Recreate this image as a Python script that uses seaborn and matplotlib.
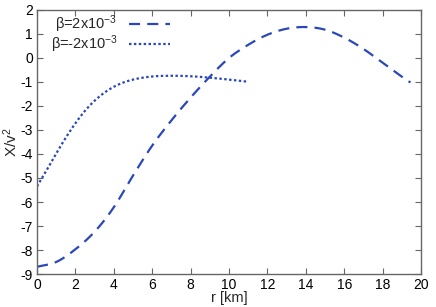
import numpy as np
import pandas as pd
import matplotlib
matplotlib.use("Agg")
import matplotlib.pyplot as plt
import seaborn as sns

r_pos = [0, 1, 2, 3, 3.5, 4, 5, 6, 7, 8, 9, 10, 11, 12, 13, 14, 15, 16, 17, 18, 19, 19.45]
y_pos = [-8.7, -8.5, -7.97, -7.24, -6.77, -6.22, -4.9, -3.65, -2.6, -1.65, -0.78, 0.0,
         0.55, 0.97, 1.22, 1.29, 1.18, 0.85, 0.38, -0.2, -0.78, -1.02]
r_neg = [0, 0.5, 1, 1.5, 2, 2.5, 3, 3.5, 4, 4.5, 5, 5.5, 6, 7, 8, 9, 10, 11]
y_neg = [-5.35, -4.68, -3.98, -3.32, -2.72, -2.2, -1.78, -1.45, -1.2, -1.02, -0.9,
         -0.82, -0.77, -0.74, -0.76, -0.82, -0.9, -0.99]
labels = [r"$\beta$=2x10$^{-3}$", r"$\beta$=-2x10$^{-3}$"]
xticks = list(range(0, 21, 2))
yticks = list(range(-9, 3))

sns.set_style("white")
plt.rcParams['font.family'] = ['Liberation Sans', 'DejaVu Sans']
plt.rcParams['mathtext.fontset'] = 'custom'
plt.rcParams['mathtext.rm'] = 'Liberation Sans'
plt.rcParams['mathtext.it'] = 'Liberation Sans'
plt.rcParams['axes.unicode_minus'] = False

color = "#2a48b8"
fig = plt.figure(figsize=(4.36, 3.07), dpi=100)
ax = fig.add_axes([37/436, 1-274/307, (421-37)/436, (274-10)/307])

df1 = pd.DataFrame({"r": r_pos, "y": y_pos})
df2 = pd.DataFrame({"r": r_neg, "y": y_neg})

def smooth(df):
    xs = np.array(df["r"], dtype=float)
    ys = np.array(df["y"], dtype=float)
    xx = np.linspace(xs[0], xs[-1], 300)
    h = np.diff(xs); d = np.diff(ys) / h
    m = np.zeros_like(ys)
    m[0] = d[0]; m[-1] = d[-1]
    for i in range(1, len(xs) - 1):
        m[i] = (d[i-1] * h[i] + d[i] * h[i-1]) / (h[i] + h[i-1])
    idx = np.clip(np.searchsorted(xs, xx) - 1, 0, len(xs) - 2)
    t = (xx - xs[idx]) / h[idx]
    h00 = 2*t**3 - 3*t**2 + 1; h10 = t**3 - 2*t**2 + t
    h01 = -2*t**3 + 3*t**2; h11 = t**3 - t**2
    yy = h00*ys[idx] + h10*h[idx]*m[idx] + h01*ys[idx+1] + h11*h[idx]*m[idx+1]
    return pd.DataFrame({"r": xx, "y": yy})

s1 = smooth(df1); s2 = smooth(df2)
sns.lineplot(data=s1, x="r", y="y", ax=ax, color=color, lw=1.6, label=labels[0],
             sort=False)
sns.lineplot(data=s2, x="r", y="y", ax=ax, color=color, lw=1.6, label=labels[1],
             sort=False)
ax.lines[0].set_dashes([5, 3.2])
ax.lines[1].set_dashes([1.1, 1.1])

ax.set_xlim(0, 20)
ax.set_ylim(-9, 2)
ax.set_xticks(xticks)
ax.set_yticks(yticks)
ax.tick_params(direction="in", length=4, width=0.8, top=True, right=True,
               bottom=True, left=True, labelsize=10, colors="black", pad=3)
ax.tick_params(axis="both", which="major", color="#666666")
for sp in ax.spines.values():
    sp.set_color("#666666")
    sp.set_linewidth(1.0)
ax.set_xlabel("r [km]", fontsize=10.5, labelpad=-1)
ax.set_ylabel("X/v$^2$", fontsize=11, labelpad=0)

leg = ax.legend(loc="upper left", frameon=False, markerfirst=False, fontsize=10.5,
                handlelength=2.8, handletextpad=0.8, labelspacing=-0.1,
                borderaxespad=0.0, bbox_to_anchor=(0.02, 1.01))
for t in leg.get_texts():
    t.set_ha("right")
leg._legend_box.align = "right"

fig.savefig("out.png", dpi=100)
